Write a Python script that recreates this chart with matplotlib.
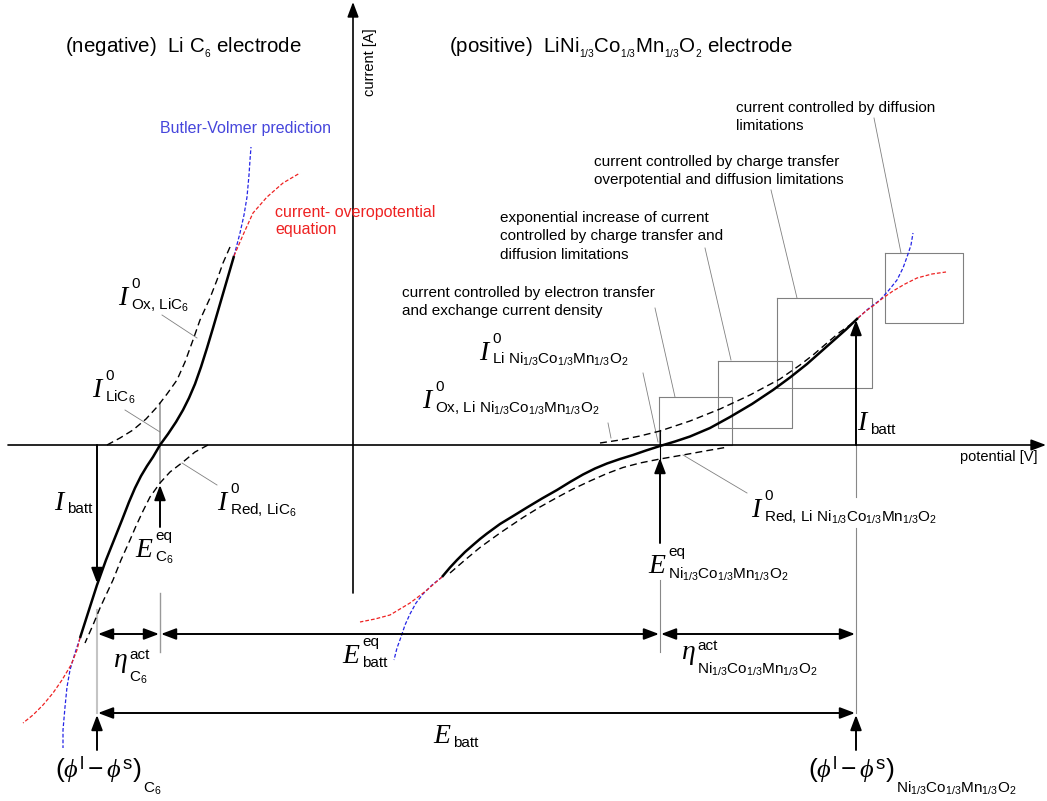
import matplotlib
matplotlib.use("Agg")
import matplotlib.pyplot as plt

plt.rcParams['font.family'] = 'Liberation Sans'
plt.rcParams['mathtext.fontset'] = 'custom'
plt.rcParams['mathtext.rm'] = 'Liberation Sans'
plt.rcParams['mathtext.it'] = 'Liberation Serif:italic'
plt.rcParams['mathtext.bf'] = 'Liberation Sans:bold'

# Drawing space: x runs along the potential axis, y runs down the page
# (the current axis points up, so larger y = lower current).
AXIS_Y = 445        # potential axis (zero current)
AXIS_X = 353        # current axis
E_EQ_NEG = 160      # equilibrium potential LiC6
E_EQ_POS = 660      # equilibrium potential NMC
PHI_NEG = 97        # operating potential LiC6
PHI_POS = 856       # operating potential NMC
I_BATT_NEG = 583    # cell current on LiC6 curve
I_BATT_POS = 320    # cell current on NMC curve
ETA_Y = 634         # level of the overpotential arrows
E_BATT_Y = 713      # level of the cell voltage arrow

# LiC6 electrode: net current and its two partial currents
neg_net_x = [80, 88, 97, 106, 114, 122, 129, 135, 141, 147, 153, 160, 168, 176, 183, 189, 195, 201, 207, 213, 220, 227, 234]
neg_net_y = [638, 613, 585, 560, 540, 520, 502, 488, 476, 466, 457, 445, 434, 422, 410, 398, 384, 367, 348, 328, 304, 280, 256]
neg_ox_x = [107, 120, 133, 146, 157, 167, 177, 185, 193, 200, 210, 217, 223, 230]
neg_ox_y = [445, 438, 430, 419, 407, 394, 380, 362, 340, 320, 298, 280, 263, 247]
neg_red_x = [208, 195, 183, 170, 160, 150, 143, 136, 130, 121, 113, 106, 100, 93, 85]
neg_red_y = [445, 452, 462, 472, 483, 497, 511, 526, 540, 560, 580, 595, 608, 625, 643]
# Butler-Volmer vs current-overpotential continuations
neg_bv_hi_x = [234, 240, 244, 247, 249, 250, 251]
neg_bv_hi_y = [256, 233, 215, 197, 175, 160, 147]
neg_co_hi_x = [234, 243, 253, 267, 283, 300]
neg_co_hi_y = [256, 235, 213, 197, 183, 173]
neg_bv_lo_x = [80, 75, 70, 67, 65, 63, 63]
neg_bv_lo_y = [638, 653, 670, 687, 707, 730, 748]
neg_co_lo_x = [80, 77, 71, 62, 53, 43, 33, 23]
neg_co_lo_y = [638, 650, 665, 680, 693, 705, 715, 723]

# LiNi1/3Co1/3Mn1/3O2 electrode
pos_net_x = [442, 450, 457, 465, 473, 480, 487, 500, 514, 527, 542, 557, 570, 583, 595, 607, 620, 633, 646, 660, 675, 690, 710, 730, 752, 773, 790, 807, 820, 833, 846, 858]
pos_net_y = [577, 567.5, 560, 552, 545, 539, 533.5, 524, 515.5, 507.5, 498.5, 490, 482, 474.5, 468.5, 463.5, 459, 455, 450.5, 446, 441.5, 436.5, 428, 417, 404, 390, 377.5, 364, 352.5, 341, 329.5, 318]
pos_ox_x = [600, 620, 640, 660, 690, 720, 750, 780, 800, 813, 827, 840, 850, 857]
pos_ox_y = [443, 440, 436, 431, 421, 409, 395, 379, 365, 355, 343, 332, 325, 319]
pos_red_x = [450, 465, 480, 500, 523, 540, 557, 573, 590, 607, 623, 640, 660, 683, 705, 728]
pos_red_y = [573, 560, 547.5, 533, 517.5, 507, 497.5, 489, 481, 473.5, 467.5, 463, 459, 455, 451, 447]
pos_bv_lo_x = [442, 432, 423, 416, 410, 405, 401, 397, 394]
pos_bv_lo_y = [577, 585, 594, 603, 614, 625, 637, 648, 660]
pos_co_lo_x = [442, 435, 427, 418, 410, 400, 390, 375, 360]
pos_co_lo_y = [577, 583, 590, 597, 603, 609, 615, 619, 622]
pos_bv_hi_x = [858, 868, 880, 889, 897, 903, 907, 911, 913]
pos_bv_hi_y = [318, 309, 300, 290, 280, 268, 257, 245, 233]
pos_co_hi_x = [858, 866, 873, 883, 893, 905, 917, 932, 946]
pos_co_hi_y = [318, 311, 306, 298, 291, 284, 278, 274, 272]

# regime boxes on the NMC curve (x0, y0, x1, y1) and their captions
boxes = [(659, 397, 732, 445), (718, 361, 792, 428), (777, 298, 872, 388), (885, 253, 963, 323)]
captions = [
    (402, 286, "current controlled by electron transfer\nand exchange current density"),
    (500, 211, "exponential increase of current\ncontrolled by charge transfer and\ndiffusion limitations"),
    (594, 155, "current controlled by charge transfer\noverpotential and diffusion limitations"),
    (736, 101, "current controlled by diffusion\nlimitations"),
]
leaders = [
    ((655, 308), (675, 397)), ((705, 248), (731, 360)), ((771, 190), (797, 298)),
    ((874, 118), (901, 253)), ((643, 373), (658, 442)), ((608, 423), (611, 438)),
    ((683, 455), (747, 493)), ((162, 315), (197, 338)), ((125, 410), (160, 432)),
    ((182, 463), (217, 485)),
]

NMC = r'Ni$_{1/3}$Co$_{1/3}$Mn$_{1/3}$O$_2$'

fig = plt.figure(figsize=(10.47, 8.01), dpi=100)
ax = fig.add_axes([0, 0, 1, 1])
ax.set_xlim(0, 1047)
ax.set_ylim(801, 0)
ax.axis('off')

BLUE = '#2424e6'
RED = '#ee2222'


def arrow(p_from, p_to, style='-|>', lw=1.4, color='k'):
    ax.annotate('', xy=p_to, xytext=p_from,
                arrowprops=dict(arrowstyle=style + ',head_length=0.45,head_width=0.17',
                                color=color, lw=lw, mutation_scale=20,
                                shrinkA=0, shrinkB=0))


def symbol(x, y, base, sup=None, sub=None, sup_dy=-17, sub_dy=5, size=20, sub_size=11):
    ax.text(x, y, base, ha='right', va='baseline', fontsize=size)
    if sup:
        ax.text(x + 1, y + sup_dy, sup, ha='left', va='baseline', fontsize=sub_size)
    if sub:
        ax.text(x + 1, y + sub_dy, sub, ha='left', va='baseline', fontsize=sub_size)


# axes
arrow((8, AXIS_Y), (1046, AXIS_Y), lw=1.2)
arrow((AXIS_X, 593), (AXIS_X, 2), lw=1.2)
ax.text(1037, 457, 'potential [V]', ha='right', va='center', fontsize=10.5)
ax.text(370, 62, 'current [A]', ha='center', va='center', rotation=90, fontsize=10.5)

# titles
ax.text(65, 48, r'(negative)  Li C$_{{}_6}$ electrode', ha='left', va='center', fontsize=14.8)
ax.text(449, 48, r'(positive)  LiNi$_{{}_{1/3}}$Co$_{{}_{1/3}}$Mn$_{{}_{1/3}}$O$_{{}_2}$ electrode',
        ha='left', va='center', fontsize=14.8)

# helper lines behind curves
ax.plot([E_EQ_NEG, E_EQ_NEG], [403, 483], color='#999999', lw=1.2)
ax.plot([E_EQ_NEG, E_EQ_NEG], [593, 652], color='#999999', lw=1.0)
ax.plot([PHI_NEG, PHI_NEG], [610, E_BATT_Y], color='#c4c4c4', lw=1.5)
ax.plot([E_EQ_POS, E_EQ_POS], [430, 460], color='k', lw=0.8)
ax.plot([E_EQ_POS, E_EQ_POS], [580, 652], color='#888888', lw=0.8)
ax.plot([PHI_POS, PHI_POS], [AXIS_Y, 497], color='#888888', lw=0.8)
ax.plot([PHI_POS, PHI_POS], [528, E_BATT_Y], color='#888888', lw=0.8)

for x0, y0, x1, y1 in boxes:
    ax.plot([x0, x1, x1, x0, x0], [y0, y0, y1, y1, y0], color='#808080', lw=0.8)
for (xa, ya), (xb, yb) in leaders:
    ax.plot([xa, xb], [ya, yb], color='#808080', lw=0.6)
for x, y, s in captions:
    ax.text(x, y, s, ha='left', va='top', fontsize=11, linespacing=1.4)

# partial currents (dashed) and net current (solid)
dash = dict(color='k', lw=1.0, dashes=(5, 3))
for xs, ys in [(neg_ox_x, neg_ox_y), (neg_red_x, neg_red_y), (pos_ox_x, pos_ox_y), (pos_red_x, pos_red_y)]:
    ax.plot(xs, ys, **dash)
for xs, ys in [(neg_bv_hi_x, neg_bv_hi_y), (neg_bv_lo_x, neg_bv_lo_y), (pos_bv_hi_x, pos_bv_hi_y), (pos_bv_lo_x, pos_bv_lo_y)]:
    ax.plot(xs, ys, color=BLUE, lw=0.9, dashes=(3, 1.6))
for xs, ys in [(neg_co_hi_x, neg_co_hi_y), (neg_co_lo_x, neg_co_lo_y), (pos_co_hi_x, pos_co_hi_y), (pos_co_lo_x, pos_co_lo_y)]:
    ax.plot(xs, ys, color=RED, lw=0.9, dashes=(3, 1.6))
ax.plot(neg_net_x, neg_net_y, color='k', lw=1.8, solid_capstyle='butt', solid_joinstyle='round')
ax.plot(pos_net_x, pos_net_y, color='k', lw=1.8, solid_capstyle='butt', solid_joinstyle='round')

ax.text(160, 129, 'Butler-Volmer prediction', color='#4646dc', ha='left', va='center', fontsize=11.5)
ax.text(275, 221, 'current- overopotential\nequation', color=RED, ha='left', va='center',
        fontsize=11.5, linespacing=1.15)

# current and potential arrows
arrow((PHI_NEG, AXIS_Y), (PHI_NEG, I_BATT_NEG))
arrow((PHI_POS, AXIS_Y), (PHI_POS, I_BATT_POS))
arrow((E_EQ_NEG, 527), (E_EQ_NEG, 485))
arrow((E_EQ_POS, 543), (E_EQ_POS, 458))
arrow((PHI_NEG, 750), (PHI_NEG, E_BATT_Y + 2))
arrow((PHI_POS, 750), (PHI_POS, E_BATT_Y + 2))
arrow((PHI_NEG + 1, ETA_Y), (E_EQ_NEG - 1, ETA_Y), style='<|-|>')
arrow((E_EQ_NEG + 1, ETA_Y), (E_EQ_POS - 1, ETA_Y), style='<|-|>')
arrow((E_EQ_POS + 1, ETA_Y), (PHI_POS - 1, ETA_Y), style='<|-|>')
arrow((PHI_NEG + 1, E_BATT_Y), (PHI_POS - 1, E_BATT_Y), style='<|-|>')

# symbols
symbol(130, 305, r'$I$', '0', r'Ox, LiC$_6$')
symbol(104, 397, r'$I$', '0', r'LiC$_6$')
symbol(229, 510, r'$I$', '0', r'Red, LiC$_6$')
symbol(66, 510, r'$I$', sub='batt', sub_dy=3)
symbol(154, 557, r'$E$', 'eq', r'C$_6$')
symbol(128, 667, r'$\eta$', 'act', r'C$_6$', sup_dy=-8, sub_dy=15)
symbol(361, 663, r'$E$', 'eq', 'batt', sub_dy=4)
symbol(452, 743, r'$E$', sub='batt', sub_dy=4)
symbol(142, 778, r'$(\phi^{\mathrm{l}} - \phi^{\mathrm{s}})$', sub=r'C$_6$', sub_dy=15, size=19)
symbol(895, 778, r'$(\phi^{\mathrm{l}} - \phi^{\mathrm{s}})$', sub=NMC, sub_dy=15, size=19)
symbol(491, 360, r'$I$', '0', 'Li ' + NMC, sub_dy=4)
symbol(434, 408, r'$I$', '0', 'Ox, Li ' + NMC)
symbol(869, 430, r'$I$', sub='batt', sub_dy=4)
symbol(763, 517, r'$I$', '0', 'Red, Li ' + NMC)
symbol(667, 573, r'$E$', 'eq', NMC, sub_dy=6)
symbol(696, 659, r'$\eta$', 'act', NMC, sup_dy=-9, sub_dy=15)

fig.savefig('out.png', dpi=100)
